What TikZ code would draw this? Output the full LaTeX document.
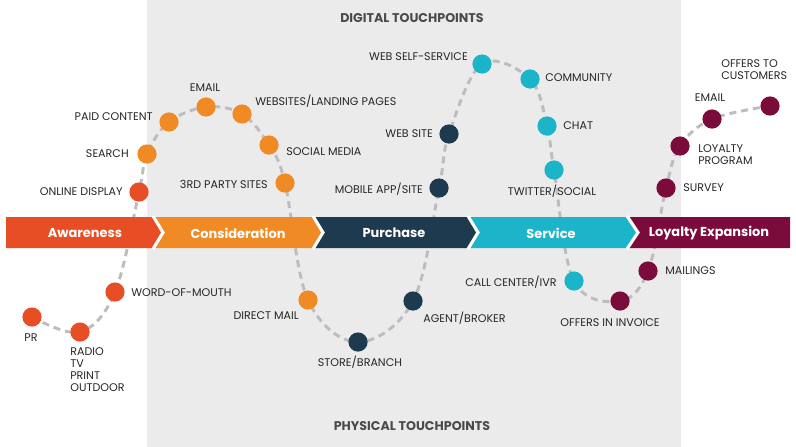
\documentclass[tikz,border=0pt]{standalone}
\usepackage{fontspec}
\setmainfont{Poppins}
\usetikzlibrary{positioning}

\definecolor{bggray}{HTML}{EBEBEB}
\definecolor{trailgray}{HTML}{BDBDBD}
\definecolor{txt}{HTML}{262626}
\definecolor{titlegray}{HTML}{4A4A4A}
\definecolor{aware}{HTML}{E84E25}
\definecolor{consid}{HTML}{F08A24}
\definecolor{purch}{HTML}{1E3A4F}
\definecolor{serv}{HTML}{1BB4C9}
\definecolor{loyal}{HTML}{7B0B3B}

\pgfdeclarelayer{back}
\pgfsetlayers{back,main}

\begin{document}
\begin{tikzpicture}[x=0.025cm, y=-0.025cm,
    dot/.style={circle, minimum size=0.48cm, inner sep=0pt},
    lbl/.style={font=\fontsize{7.9}{8.5}\selectfont, text=txt, inner sep=0pt, align=left},
    stage/.style={font=\fontsize{9.2}{11}\selectfont\bfseries, text=white, inner sep=0pt},
    title/.style={font=\fontsize{9}{11}\selectfont\bfseries, text=titlegray, inner sep=0pt},
    trail/.style={draw=trailgray, line width=2.1pt, dash pattern=on 5pt off 3.5pt}]
        \useasboundingbox (0,0) rectangle (796,447);

        % stages
        \fill[aware] (6,217) -- (153,217) -- (163,232.5) -- (153,248) -- (6,248) -- cycle;
        \fill[consid] (153,217) -- (313,217) -- (323,232.5) -- (313,248) -- (153,248) -- (163,232.5) -- cycle;
        \fill[purch] (313,217) -- (468,217) -- (478,232.5) -- (468,248) -- (313,248) -- (323,232.5) -- cycle;
        \fill[serv] (468,217) -- (627,217) -- (638,232.5) -- (627,248) -- (468,248) -- (478,232.5) -- cycle;
        \fill[loyal] (627,217) -- (790,217) -- (790,248) -- (627,248) -- (638,232.5) -- cycle;
        \foreach \a/\b in {153/163, 313/323, 468/478, 627/638}
            \draw[white, line width=2.2pt] (\a,216) -- (\b,232.5) -- (\a,249);

        \node[stage] (awareness) at (85,233) {Awareness};
        \node[stage] (consideration) at (238,233) {Consideration};
        \node[stage] (purchase) at (394,233) {Purchase};
        \node[stage] (service) at (551,233) {Service};
        \node[stage] (loyalty) at (709,233) {Loyalty Expansion};

        \node[title] (digital) at (412,18) {DIGITAL TOUCHPOINTS};
        \node[title] (physical) at (412,426) {PHYSICAL TOUCHPOINTS};

        % awareness
        \node[dot, fill=aware] (pr) at (32,317) {};
        \node[dot, fill=aware] (radio) at (80,332) {};
        \node[dot, fill=aware] (mouth) at (115,292) {};
        \node[dot, fill=aware] (display) at (139,192) {};
        % consideration
        \node[dot, fill=consid] (search) at (147,154) {};
        \node[dot, fill=consid] (paid) at (169,122) {};
        \node[dot, fill=consid] (emailA) at (206,107) {};
        \node[dot, fill=consid] (websites) at (242,114) {};
        \node[dot, fill=consid] (social) at (269,145) {};
        \node[dot, fill=consid] (party) at (285,183) {};
        \node[dot, fill=consid] (directmail) at (308,300) {};
        % purchase
        \node[dot, fill=purch] (store) at (358,342) {};
        \node[dot, fill=purch] (agent) at (413,301) {};
        \node[dot, fill=purch] (mobile) at (439,188) {};
        \node[dot, fill=purch] (website) at (449,134) {};
        % service
        \node[dot, fill=serv] (selfservice) at (482,64) {};
        \node[dot, fill=serv] (community) at (530,79) {};
        \node[dot, fill=serv] (chat) at (547,126) {};
        \node[dot, fill=serv] (twitter) at (554,170) {};
        \node[dot, fill=serv] (callcenter) at (574,281) {};
        % loyalty
        \node[dot, fill=loyal] (invoice) at (620,301) {};
        \node[dot, fill=loyal] (mailings) at (648,271) {};
        \node[dot, fill=loyal] (survey) at (666,188) {};
        \node[dot, fill=loyal] (program) at (680,146) {};
        \node[dot, fill=loyal] (emailB) at (712,119) {};
        \node[dot, fill=loyal] (offers) at (770,106) {};

        \begin{pgfonlayer}{back}
            \fill[bggray] (147,0) rectangle (681,447);
            \draw[trail] plot[smooth, tension=0.6] coordinates {(pr.center) (radio.center) (mouth.center)
                (display.center) (search.center) (paid.center) (emailA.center) (websites.center)
                (social.center) (party.center) (directmail.center) (store.center) (agent.center)
                (mobile.center) (website.center) (selfservice.center) (community.center) (chat.center)
                (twitter.center) (callcenter.center) (invoice.center) (mailings.center) (survey.center)
                (program.center) (emailB.center) (offers.center)};
        \end{pgfonlayer}

        % labels
        \node[lbl] (tPr) at (31,338) {PR};
        \node[lbl, anchor=west] (tRadio) at (70,370) {RADIO\\TV\\PRINT\\OUTDOOR};
        \node[lbl, anchor=west] (tMouth) at (131,293) {WORD-OF-MOUTH};
        \node[lbl, anchor=east] (tDisplay) at (123,192) {ONLINE DISPLAY};
        \node[lbl, anchor=east] (tSearch) at (129,154) {SEARCH};
        \node[lbl, anchor=east] (tPaid) at (153,117) {PAID CONTENT};
        \node[lbl] (tEmailA) at (205,88) {EMAIL};
        \node[lbl, anchor=west] (tWebsites) at (255,101) {WEBSITES/LANDING PAGES};
        \node[lbl, anchor=west] (tSocial) at (286,152) {SOCIAL MEDIA};
        \node[lbl, anchor=east] (tParty) at (268,184) {3RD PARTY SITES};
        \node[lbl, anchor=east] (tDirect) at (299,316) {DIRECT MAIL};
        \node[lbl] (tStore) at (360,362) {STORE/BRANCH};
        \node[lbl, anchor=west] (tAgent) at (423,318) {AGENT/BROKER};
        \node[lbl, anchor=east] (tMobile) at (423,189) {MOBILE APP/SITE};
        \node[lbl, anchor=east] (tWebsite) at (433,134) {WEB SITE};
        \node[lbl, anchor=east] (tSelf) at (468,57) {WEB SELF-SERVICE};
        \node[lbl, anchor=west] (tCommunity) at (545,78) {COMMUNITY};
        \node[lbl, anchor=west] (tChat) at (563,126) {CHAT};
        \node[lbl] (tTwitter) at (552,191) {TWITTER/SOCIAL};
        \node[lbl, anchor=east] (tCall) at (557,282) {CALL CENTER/IVR};
        \node[lbl] (tInvoice) at (610,323) {OFFERS IN INVOICE};
        \node[lbl, anchor=west] (tMailings) at (665,271) {MAILINGS};
        \node[lbl, anchor=west] (tSurvey) at (683,188) {SURVEY};
        \node[lbl, anchor=west] (tProgram) at (698,155) {LOYALTY\\PROGRAM};
        \node[lbl] (tEmailB) at (710,98) {EMAIL};
        \node[lbl, anchor=west] (tOffers) at (721,70) {OFFERS TO\\CUSTOMERS};
\end{tikzpicture}
\end{document}
